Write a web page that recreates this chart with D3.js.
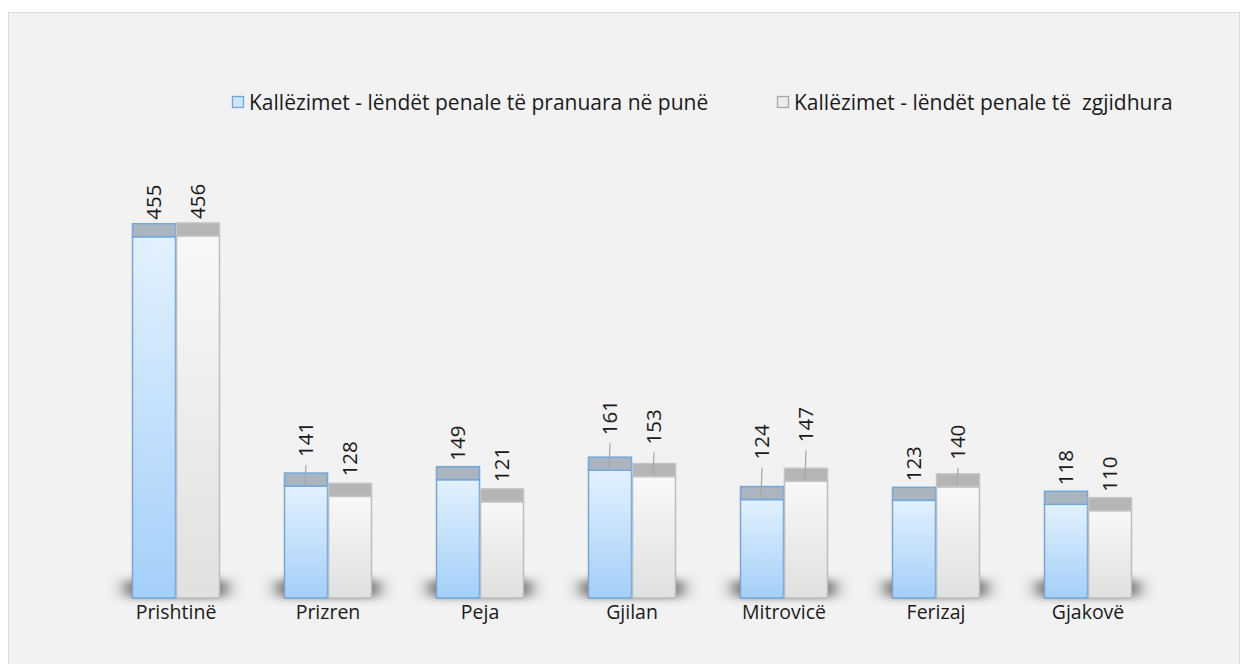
<!DOCTYPE html>
<html>
<head>
<meta charset="utf-8">
<script src="https://cdn.jsdelivr.net/npm/d3@7"></script>
<style>
  body { margin: 0; background: #ffffff; }
  text { font-family: "Open Sans", "Noto Sans", sans-serif; fill: #1a1a1a; }
</style>
</head>
<body>
<svg id="chart"></svg>
<script>
// data
var categories = ["Prishtinë", "Prizren", "Peja", "Gjilan", "Mitrovicë", "Ferizaj", "Gjakovë"];
var seriesNames = ["Kallëzimet - lëndët penale të pranuara në punë", "Kallëzimet - lëndët penale të  zgjidhura"];
var received = [455, 141, 149, 161, 124, 123, 118];
var resolved = [456, 128, 121, 153, 147, 140, 110];

// how far each value label was pushed up above its bar (layout, px)
var liftReceived = [4, 16, 6, 22, 27, 6, 6];
var liftResolved = [4, 7, 7, 19, 26, 14, 6];

var W = 1244, H = 664;
var baseY = 598, topDepth = 13, barW = 44;

var svg = d3.select("#chart").attr("width", W).attr("height", H);

var defs = svg.append("defs");
var gBlue = defs.append("linearGradient").attr("id", "gBlue").attr("x1", 0).attr("y1", 0).attr("x2", 0).attr("y2", 1);
gBlue.append("stop").attr("offset", "0%").attr("stop-color", "#e3f1fe");
gBlue.append("stop").attr("offset", "100%").attr("stop-color", "#a4cff9");
var gGrey = defs.append("linearGradient").attr("id", "gGrey").attr("x1", 0).attr("y1", 0).attr("x2", 0).attr("y2", 1);
gGrey.append("stop").attr("offset", "0%").attr("stop-color", "#f8f8f8");
gGrey.append("stop").attr("offset", "100%").attr("stop-color", "#e0e0e0");
defs.append("filter").attr("id", "blur").attr("x", "-40%").attr("y", "-150%").attr("width", "180%").attr("height", "400%")
  .append("feGaussianBlur").attr("stdDeviation", "9 4");

// chart area
svg.append("rect").attr("x", 8.5).attr("y", 12.5).attr("width", 1231).attr("height", 700)
  .attr("fill", "#f2f2f2").attr("stroke", "#d9d9d9");

var x = d3.scaleBand().domain(categories).range([100, 1164]);
var x1 = d3.scaleBand().domain([0, 1]).range([0, barW * 2]);
var y = d3.scaleLinear().domain([0, 500]).range([baseY, 201]);

var rows = categories.map(function(c, i) {
  return {cat: c, vals: [received[i], resolved[i]], lifts: [liftReceived[i], liftResolved[i]]};
});

function left(d) { return x(d.cat) + (x.bandwidth() - barW * 2) / 2; }

var groups = svg.selectAll(".grp").data(rows).enter().append("g").attr("class", "grp")
  .attr("transform", function(d) { return "translate(" + left(d) + ",0)"; });

// soft floor shadow
groups.append("rect")
  .attr("x", -6).attr("width", barW * 2 + 12)
  .attr("y", baseY - 18).attr("height", 17)
  .attr("fill", "#3c3c3c").attr("opacity", 0.8)
  .attr("filter", "url(#blur)");

var bars = groups.selectAll(".bar")
  .data(function(d) { return d.vals.map(function(v, s) { return {v: v, s: s, lift: d.lifts[s]}; }); })
  .enter().append("g").attr("class", "bar");

// front face
bars.append("rect")
  .attr("x", function(d) { return x1(d.s) + 0.5; })
  .attr("width", barW - 1)
  .attr("y", function(d) { return y(d.v); })
  .attr("height", function(d) { return baseY - y(d.v); })
  .attr("fill", function(d) { return d.s === 0 ? "url(#gBlue)" : "url(#gGrey)"; })
  .attr("stroke", function(d) { return d.s === 0 ? "#6fa8dc" : "#bcbcbc"; })
  .attr("stroke-width", 1.5);

// top face
bars.append("rect")
  .attr("x", function(d) { return x1(d.s) + 0.5; })
  .attr("width", barW - 1)
  .attr("y", function(d) { return y(d.v) - topDepth; })
  .attr("height", topDepth)
  .attr("fill", function(d) { return d.s === 0 ? "#aab5bf" : "#b5b5b5"; })
  .attr("stroke", function(d) { return d.s === 0 ? "#6fa8dc" : "#c4c4c4"; })
  .attr("stroke-width", 1.5);

// leader lines for pushed-up labels
bars.filter(function(d) { return d.lift > 10; }).append("line")
  .attr("x1", function(d) { return x1(d.s) + barW / 2; })
  .attr("x2", function(d) { return x1(d.s) + barW / 2 - 1; })
  .attr("y1", function(d) { return y(d.v) - topDepth - d.lift + 8; })
  .attr("y2", function(d) { return y(d.v) - 2; })
  .attr("stroke", "#a6a6a6").attr("stroke-width", 1.2);

// value labels
bars.append("text")
  .attr("transform", function(d) {
    return "translate(" + (x1(d.s) + barW / 2 + 7) + "," + (y(d.v) - topDepth - d.lift) + ") rotate(-90)";
  })
  .attr("font-size", 20.5)
  .text(function(d) { return d.v; });

// category axis
var xAxis = d3.axisBottom(x).tickSize(0).tickPadding(0);
var ax = svg.append("g").attr("transform", "translate(0,619)").call(xAxis);
ax.select(".domain").remove();
ax.selectAll("text").attr("font-size", 19.5).attr("dy", 0).style("font-family", "\"Open Sans\", sans-serif").attr("fill", "#1a1a1a");

// legend
var legend = svg.append("g").attr("transform", "translate(232,96)");
var legX = [0, 545];
var leg = legend.selectAll(".leg").data(seriesNames).enter().append("g")
  .attr("transform", function(d, i) { return "translate(" + legX[i] + ",0)"; });
leg.append("rect").attr("x", 0.5).attr("y", 0.5).attr("width", 11).attr("height", 11)
  .attr("fill", function(d, i) { return i === 0 ? "#cfe5fb" : "#ebebeb"; })
  .attr("stroke", function(d, i) { return i === 0 ? "#6fa8dc" : "#a6a6a6"; })
  .attr("stroke-width", 1.3);
leg.append("text").attr("x", 17).attr("y", 14).attr("font-size", 21)
  .attr("xml:space", "preserve")
  .text(function(d) { return d; });
</script>
</body>
</html>
